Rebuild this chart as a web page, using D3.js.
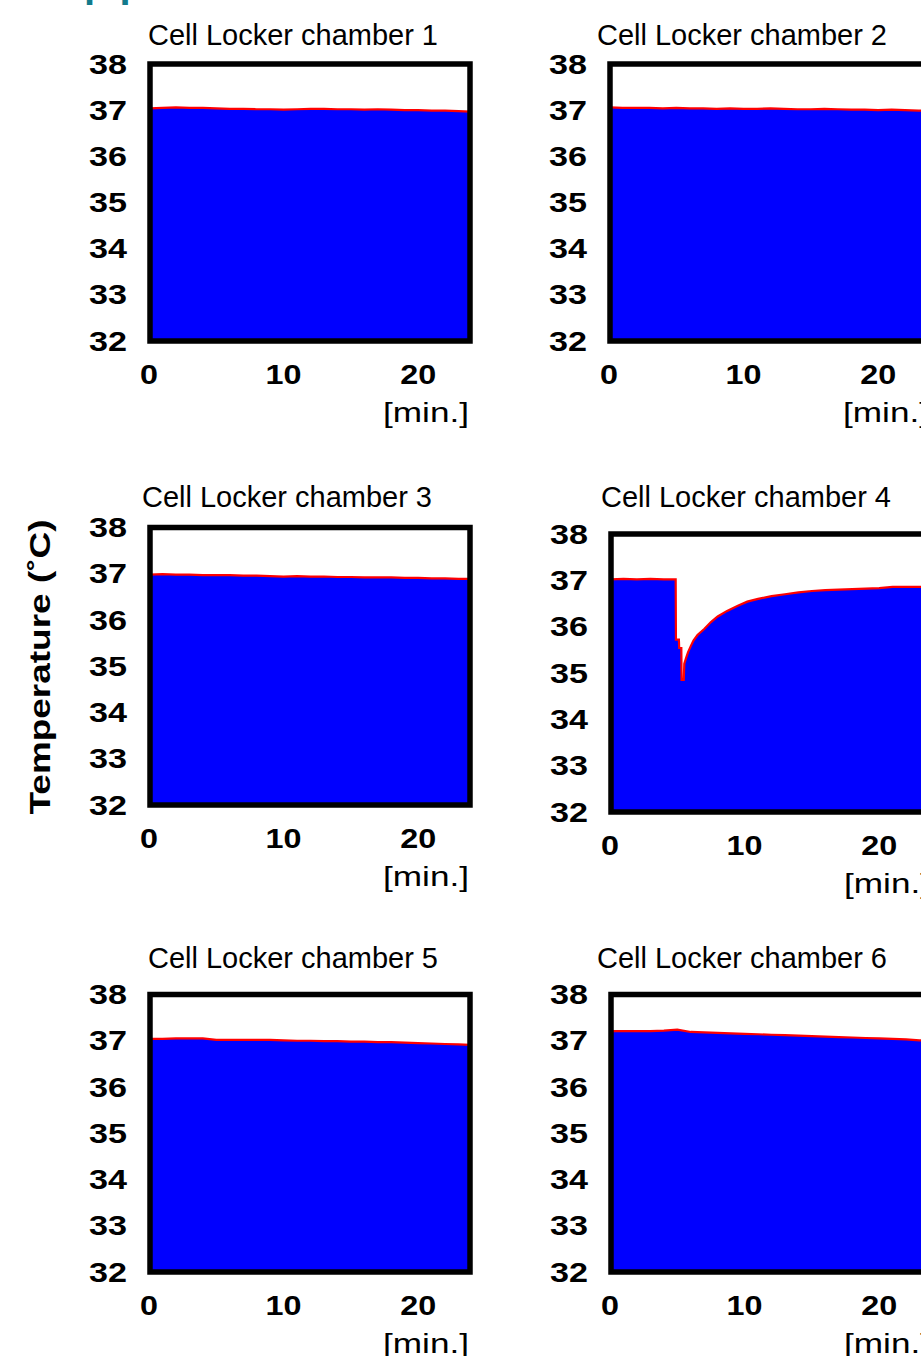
<!DOCTYPE html>
<html>
<head>
<meta charset="utf-8">
<script src="https://cdn.jsdelivr.net/npm/d3@7"></script>
<style>
  body { margin: 0; background: #fff; }
  svg { display: block; }
  text { font-family: Arial, "Liberation Sans", sans-serif; fill: #000; }
</style>
</head>
<body>
<div class="chart"></div>
<script>
const titles = ["Cell Locker chamber 1", "Cell Locker chamber 2", "Cell Locker chamber 3",
  "Cell Locker chamber 4", "Cell Locker chamber 5", "Cell Locker chamber 6"];
const yTicks = [32, 33, 34, 35, 36, 37, 38];
const xTicks = [0, 10, 20];

// minutes, one reading per minute for the steady chambers
const tFlat = [0, 1, 2, 3, 4, 5, 6, 7, 8, 9, 10, 11, 12, 13, 14, 15, 16, 17, 18, 19, 20, 21, 22, 23, 23.9];
const chamber1 = [37.04, 37.05, 37.06, 37.05, 37.05, 37.04, 37.03, 37.03, 37.02, 37.02, 37.01, 37.02, 37.03,
  37.03, 37.02, 37.02, 37.01, 37.02, 37.01, 37.00, 37.00, 36.99, 36.99, 36.98, 36.97];
const chamber2 = [37.06, 37.05, 37.05, 37.05, 37.04, 37.05, 37.04, 37.04, 37.03, 37.04, 37.03, 37.03, 37.04,
  37.03, 37.02, 37.02, 37.03, 37.02, 37.01, 37.01, 37.00, 37.01, 37.00, 36.99, 36.99];
const chamber3 = [36.98, 36.99, 36.98, 36.98, 36.97, 36.97, 36.97, 36.96, 36.96, 36.95, 36.94, 36.95, 36.94,
  36.94, 36.93, 36.93, 36.92, 36.92, 36.92, 36.91, 36.91, 36.90, 36.90, 36.89, 36.89];
const chamber5 = [37.04, 37.04, 37.05, 37.05, 37.05, 37.02, 37.02, 37.02, 37.02, 37.02, 37.01, 37.00, 37.00,
  36.99, 36.99, 36.98, 36.98, 36.97, 36.97, 36.96, 36.95, 36.94, 36.93, 36.92, 36.91];
const chamber6 = [37.21, 37.21, 37.21, 37.21, 37.22, 37.24, 37.19, 37.18, 37.17, 37.16, 37.15, 37.14, 37.13,
  37.12, 37.11, 37.10, 37.09, 37.08, 37.07, 37.06, 37.05, 37.04, 37.03, 37.01, 37.00];

// chamber 4: door opened near 5 min, then recovery
const t4 = [0, 1, 2, 3, 4, 4.88, 4.9, 5.12, 5.14, 5.3, 5.32, 5.48, 5.52, 5.65, 5.8, 6.0, 6.2, 6.5, 7.0, 7.5,
  8.0, 8.7, 9.5, 10.2, 11, 12, 13, 14, 15, 16, 17, 18, 19, 20, 21, 22, 23, 23.9];
const chamber4 = [37.02, 37.03, 37.02, 37.03, 37.02, 37.02, 35.72, 35.72, 35.54, 35.54, 34.85, 34.85, 35.2,
  35.32, 35.45, 35.58, 35.7, 35.82, 35.95, 36.1, 36.22, 36.34, 36.45, 36.54, 36.6, 36.66, 36.7, 36.74, 36.77,
  36.79, 36.8, 36.81, 36.82, 36.83, 36.86, 36.86, 36.86, 36.86];

const series = [
  [tFlat, chamber1], [tFlat, chamber2], [tFlat, chamber3],
  [t4, chamber4], [tFlat, chamber5], [tFlat, chamber6]
];

// where each little chart sits on the page
const layout = [
  {left: 150, top: 64, bottom: 341, titleX: 293, titleY: 45},
  {left: 610, top: 64, bottom: 341, titleX: 742, titleY: 45},
  {left: 150, top: 527.5, bottom: 805, titleX: 287, titleY: 507},
  {left: 611, top: 534, bottom: 812, titleX: 746, titleY: 507},
  {left: 150, top: 994.5, bottom: 1272, titleX: 293, titleY: 968},
  {left: 611, top: 994.5, bottom: 1272, titleX: 742, titleY: 968}
];
const plotW = 320;

let svg = d3.select(".chart")
  .append("svg")
  .attr("width", 921)
  .attr("height", 1356);

// heading of the slide, mostly cut off at the top edge
svg.append("text")
  .attr("x", 24)
  .attr("y", -3)
  .attr("font-size", 40)
  .attr("font-weight", "bold")
  .style("fill", "#127a8c")
  .text("stop period");

svg.append("text")
  .attr("transform", "translate(50,667) rotate(-90)")
  .attr("text-anchor", "middle")
  .attr("font-size", 29)
  .attr("font-weight", "bold")
  .attr("textLength", 295)
  .attr("lengthAdjust", "spacingAndGlyphs")
  .text("Temperature (˚C)");

layout.forEach((p, i) => {
  let x = d3.scaleLinear().domain([0, 23.85]).range([p.left - 1, p.left + plotW]);
  let y = d3.scaleLinear().domain([32, 38]).range([p.bottom, p.top]);
  let [times, temps] = series[i];
  let pts = times.map((t, k) => [t, temps[k]]);

  let g = svg.append("g");

  g.append("clipPath").attr("id", "clip" + i)
    .append("rect")
    .attr("x", p.left).attr("y", p.top)
    .attr("width", plotW).attr("height", p.bottom - p.top);

  let area = d3.area()
    .x(d => x(d[0]))
    .y0(y(32))
    .y1(d => y(d[1]));

  let line = d3.line()
    .x(d => x(d[0]))
    .y(d => y(d[1]));

  g.append("path")
    .attr("clip-path", `url(#clip${i})`)
    .attr("d", area(pts))
    .attr("fill", "#0000ff");

  g.append("path")
    .attr("clip-path", `url(#clip${i})`)
    .attr("d", line(pts))
    .attr("fill", "none")
    .attr("stroke", "#ff0000")
    .attr("stroke-width", 2.2);

  g.append("rect")
    .attr("x", p.left).attr("y", p.top)
    .attr("width", plotW).attr("height", p.bottom - p.top)
    .attr("fill", "none")
    .attr("stroke", "#000")
    .attr("stroke-width", 5.5);

  g.selectAll(".ytick")
    .data(yTicks)
    .enter()
    .append("text")
    .attr("x", p.left - 23)
    .attr("y", d => y(d) + 9.5)
    .attr("text-anchor", "end")
    .attr("font-size", 27)
    .attr("font-weight", "bold")
    .attr("textLength", 38)
    .attr("lengthAdjust", "spacingAndGlyphs")
    .text(d => d);

  g.selectAll(".xtick")
    .data(xTicks)
    .enter()
    .append("text")
    .attr("x", d => x(d))
    .attr("y", p.bottom + 43)
    .attr("text-anchor", "middle")
    .attr("font-size", 27)
    .attr("font-weight", "bold")
    .attr("textLength", d => String(d).length * 18)
    .attr("lengthAdjust", "spacingAndGlyphs")
    .text(d => d);

  g.append("text")
    .attr("x", p.left + plotW - 1)
    .attr("y", p.bottom + 81)
    .attr("text-anchor", "end")
    .attr("font-size", 28)
    .attr("textLength", 86)
    .attr("lengthAdjust", "spacingAndGlyphs")
    .text("[min.]");

  g.append("text")
    .attr("x", p.titleX)
    .attr("y", p.titleY)
    .attr("text-anchor", "middle")
    .attr("font-size", 30)
    .attr("textLength", 290)
    .attr("lengthAdjust", "spacingAndGlyphs")
    .text(titles[i]);
});
</script>
</body>
</html>
